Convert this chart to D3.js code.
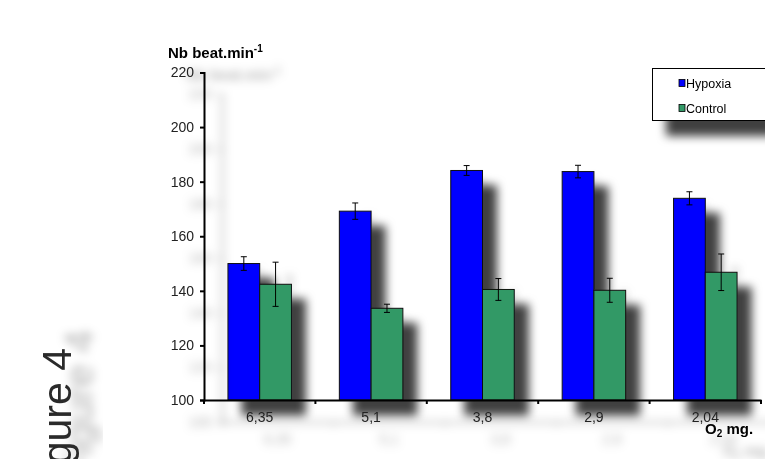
<!DOCTYPE html>
<html>
    <head>
        <script src="https://d3js.org/d3.v7.min.js"></script>
        <style>
            body { margin: 0; background: #fff; }
            text { font-family: "Liberation Sans", Arial, sans-serif; }
        </style>
    </head>
    <body>
        <svg width="765" height="459" id="chart"></svg>
        <script>
            // values
            const categories = ["6,35", "5,1", "3,8", "2,9", "2,04"];
            const seriesNames = ["Hypoxia", "Control"];
            const hypoxia = [150, 169.2, 184.1, 183.7, 173.9];
            const hypoxiaErr = [2.5, 3, 1.8, 2.3, 2.4];
            const control = [142.4, 133.6, 140.5, 140.2, 146.8];
            const controlErr = [8.1, 1.5, 4, 4.4, 6.7];
            const yTicks = [100, 120, 140, 160, 180, 200, 220];
            const colors = ["#0000ff", "#339966"];

            let svg = d3.select("#chart");

            let defs = svg.append("defs");
            let barShadow = defs.append("filter").attr("id", "barShadow")
                .attr("x", "-50%").attr("y", "-50%").attr("width", "200%").attr("height", "200%");
            barShadow.append("feDropShadow")
                .attr("dx", 14).attr("dy", 15).attr("stdDeviation", 5)
                .attr("flood-color", "#000").attr("flood-opacity", 0.75);
            let textShadow = defs.append("filter").attr("id", "textShadow")
                .attr("x", "-50%").attr("y", "-50%").attr("width", "200%").attr("height", "200%");
            textShadow.append("feDropShadow")
                .attr("dx", 18).attr("dy", 22).attr("stdDeviation", 5)
                .attr("flood-color", "#000").attr("flood-opacity", 0.3);

            let y = d3.scaleLinear().domain([100, 220]).range([400, 72.5]);
            let x0 = d3.scaleBand().domain(categories).range([204, 761])
                .paddingInner(0.43).paddingOuter(0.215);
            let x1 = d3.scaleBand().domain(seriesNames).range([0, x0.bandwidth()]);

            let rows = categories.map((c, i) => ({
                cat: c,
                bars: [
                    {name: "Hypoxia", v: hypoxia[i], e: hypoxiaErr[i]},
                    {name: "Control", v: control[i], e: controlErr[i]}
                ]
            }));

            // Figure label on the left, partly below the bottom edge
            svg.append("text")
                .attr("transform", "translate(71,348) rotate(-90)")
                .attr("text-anchor", "end")
                .attr("font-size", 41)
                .attr("fill", "#2a2a2a")
                .attr("filter", "url(#textShadow)")
                .text("Figure 4");

            // bars + error bars
            let bars = svg.append("g").attr("filter", "url(#barShadow)");
            let groups = bars.selectAll("g.grp").data(rows).join("g")
                .attr("class", "grp")
                .attr("transform", d => `translate(${x0(d.cat)},0)`);
            groups.selectAll("rect").data(d => d.bars).join("rect")
                .attr("x", d => x1(d.name))
                .attr("y", d => y(d.v))
                .attr("width", x1.bandwidth())
                .attr("height", d => y(100) - y(d.v))
                .attr("fill", (d, i) => colors[i])
                .attr("stroke", "#111")
                .attr("stroke-width", 1);

            let errs = groups.selectAll("g.err").data(d => d.bars).join("g").attr("class", "err");
            errs.append("line")
                .attr("x1", d => x1(d.name) + x1.bandwidth() / 2)
                .attr("x2", d => x1(d.name) + x1.bandwidth() / 2)
                .attr("y1", d => y(d.v + d.e))
                .attr("y2", d => y(d.v - d.e))
                .attr("stroke", "#000").attr("stroke-width", 1);
            errs.selectAll("line.cap").data(d => [d.v + d.e, d.v - d.e].map(v => ({name: d.name, v: v})))
                .join("line").attr("class", "cap")
                .attr("x1", d => x1(d.name) + x1.bandwidth() / 2 - 3)
                .attr("x2", d => x1(d.name) + x1.bandwidth() / 2 + 3)
                .attr("y1", d => y(d.v))
                .attr("y2", d => y(d.v))
                .attr("stroke", "#000").attr("stroke-width", 1);

            // axes
            let axes = svg.append("g").attr("filter", "url(#textShadow)");
            let yAxis = axes.append("g")
                .attr("transform", "translate(204,0)")
                .call(d3.axisLeft(y).tickValues(yTicks).tickSize(4).tickPadding(6));
            let xEdges = categories.map(c => x0(c) - x0.step() * 0.215).concat([761]);
            let xAxis = axes.append("g")
                .attr("transform", "translate(0,400)")
                .call(d3.axisBottom(x0).tickSize(0).tickPadding(12));
            xAxis.selectAll(".tick line").remove();
            xAxis.selectAll("line.edge").data(xEdges).join("line").attr("class", "edge")
                .attr("x1", d => d).attr("x2", d => d)
                .attr("y1", 0).attr("y2", 4)
                .attr("stroke", "#000").attr("stroke-width", 2);
            axes.selectAll(".domain").attr("stroke", "#000").attr("stroke-width", 2);
            axes.selectAll(".tick line").attr("stroke", "#000").attr("stroke-width", 2);
            axes.selectAll(".tick text")
                .attr("font-size", 14)
                .attr("fill", "#222")
                .attr("font-family", "'Liberation Sans', Arial, sans-serif");

            // axis titles
            let yTitle = axes.append("text")
                .attr("x", 168).attr("y", 58)
                .attr("font-size", 15).attr("font-weight", "bold");
            yTitle.append("tspan").text("Nb beat.min");
            yTitle.append("tspan").attr("font-size", 10).attr("dy", -6).text("-1");

            let xTitle = axes.append("text")
                .attr("x", 705).attr("y", 434)
                .attr("font-size", 15).attr("font-weight", "bold");
            xTitle.append("tspan").text("O");
            xTitle.append("tspan").attr("font-size", 10).attr("dy", 3).text("2");
            xTitle.append("tspan").attr("dy", -3).text(" mg.");

            // legend
            let legend = svg.append("g").attr("filter", "url(#barShadow)");
            legend.append("rect")
                .attr("x", 652.5).attr("y", 68.5)
                .attr("width", 130).attr("height", 52)
                .attr("fill", "#fff").attr("stroke", "#000").attr("stroke-width", 1);
            let items = legend.selectAll("g.item").data(seriesNames).join("g")
                .attr("class", "item")
                .attr("transform", (d, i) => `translate(679,${83 + i * 25})`);
            items.append("rect")
                .attr("x", 0).attr("y", -3.5).attr("width", 6).attr("height", 7)
                .attr("fill", (d, i) => colors[i]).attr("stroke", "#000").attr("stroke-width", 0.8);
            items.append("text")
                .attr("x", 7).attr("y", 4.5)
                .attr("font-size", 12.5)
                .text(d => d);
        </script>
    </body>
</html>
